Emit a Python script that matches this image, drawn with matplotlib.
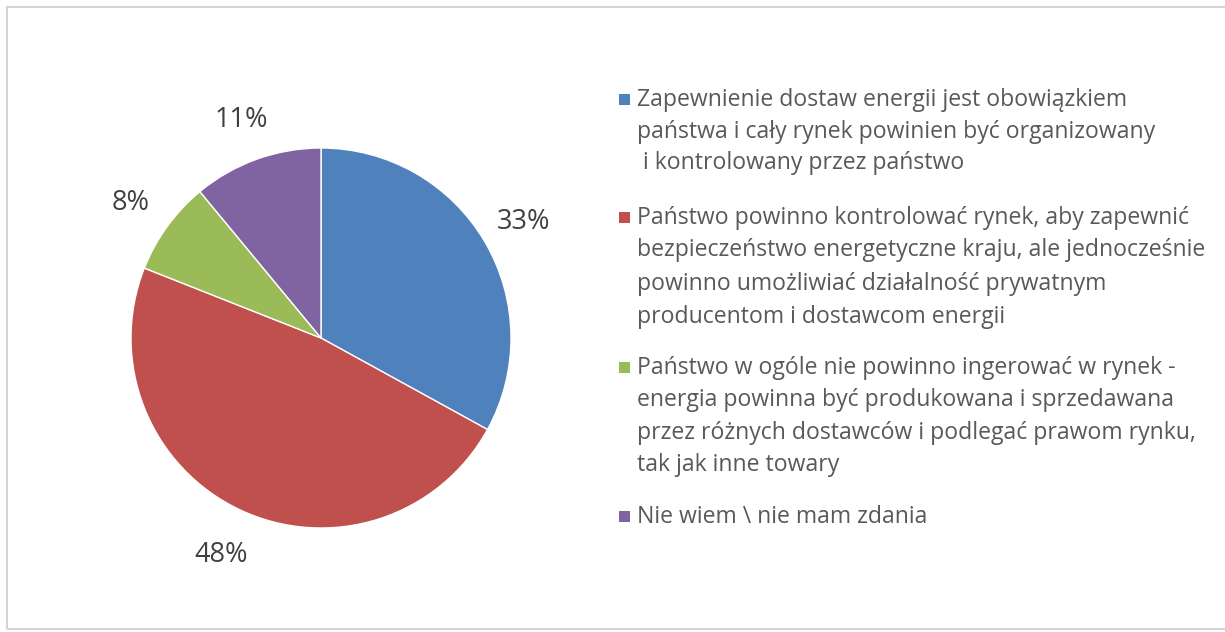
import matplotlib
matplotlib.use("Agg")
import matplotlib.pyplot as plt
from matplotlib.patches import Rectangle

categories = [
    "Zapewnienie dostaw energii jest obowiązkiem\npaństwa i cały rynek powinien być organizowany\n i kontrolowany przez państwo",
    "Państwo powinno kontrolować rynek, aby zapewnić\nbezpieczeństwo energetyczne kraju, ale jednocześnie\npowinno umożliwiać działalność prywatnym\nproducentom i dostawcom energii",
    "Państwo w ogóle nie powinno ingerować w rynek -\nenergia powinna być produkowana i sprzedawana\nprzez różnych dostawców i podlegać prawom rynku,\ntak jak inne towary",
    "Nie wiem \\ nie mam zdania",
]
values = [33, 48, 8, 11]
colors = ["#4F81BD", "#C0504D", "#9BBB59", "#8064A2"]

W, H = 1225, 632
fig = plt.figure(figsize=(W / 100, H / 100), dpi=100)
fig.patch.set_facecolor("white")

def fx(px):
    return px / W

def fy(py):
    return 1 - py / H

# frame
fig.add_artist(Rectangle((fx(7), fy(629)), fx(1240), (629 - 7) / H, transform=fig.transFigure,
                         fill=False, edgecolor="#d4d4d4", linewidth=1.5))

# pie axes
cx, cy, r = 321, 338, 190
ax = fig.add_axes([fx(cx - r), fy(cy + r), 2 * r / W, 2 * r / H])
wedges, texts = ax.pie(values, colors=colors, startangle=90, counterclock=False,
                       labels=[f"{v}%" for v in values], labeldistance=1.24,
                       wedgeprops=dict(edgecolor="white", linewidth=1.0),
                       textprops=dict(fontsize=19.5, color="#404040", family="Open Sans"))
for t in texts:
    t.set_horizontalalignment("center")
    t.set_verticalalignment("center_baseline")
ax.set_xlim(-1, 1)
ax.set_ylim(-1, 1)
ax.set_aspect("equal")
ax.axis("off")

# legend
line_y = [[100, 132, 163], [218, 250, 284, 317], [368, 400, 433, 465], [517]]
text_x = 637
for cat, col, ys in zip(categories, colors, line_y):
    lines = cat.split("\n")
    fig.add_artist(Rectangle((fx(619), fy(ys[0] + 5)), fx(11), 11 / H, transform=fig.transFigure,
                             facecolor=col, edgecolor="none"))
    for ln, y in zip(lines, ys):
        fig.text(fx(text_x), fy(y), ln, ha="left", va="center", fontsize=16.6,
                 color="#595959", family="Open Sans")

fig.savefig("out.png", dpi=100)
